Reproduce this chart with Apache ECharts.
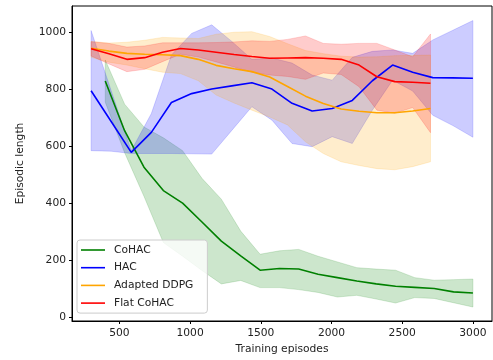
<!DOCTYPE html>
<html>
<head>
<meta charset="utf-8">
<script src="https://cdn.jsdelivr.net/npm/echarts@6/dist/echarts.min.js"></script>
<style>
  html, body { margin: 0; padding: 0; background: #fff; }
  #chart { width: 493px; height: 360px; }
</style>
</head>
<body>
<div id="chart"></div>
<script>
// CoHAC
const cohacX = [400, 537, 674, 811, 947, 1084, 1221, 1358, 1495, 1632, 1768, 1905, 2042, 2179, 2316, 2453, 2589, 2726, 2863, 3000]
const cohacMean = [829, 655, 527, 445, 401, 335, 268, 216, 166, 172, 170, 152, 140, 128, 118, 110, 106, 102, 90, 86]
const cohacUpper = [903, 748, 668, 630, 585, 488, 415, 303, 222, 234, 239, 215, 195, 175, 170, 166, 140, 131, 133, 135]
const cohacLower = [755, 578, 425, 263, 215, 165, 118, 130, 105, 105, 98, 88, 72, 78, 65, 51, 70, 67, 52, 37]

// HAC
const hacX = [300, 442, 584, 726, 868, 1011, 1153, 1295, 1437, 1579, 1721, 1863, 2005, 2147, 2289, 2432, 2574, 2716, 2858, 3000]
const hacMean = [795, 687, 579, 649, 754, 785, 801, 812, 823, 801, 751, 724, 733, 761, 830, 885, 860, 841, 840, 839]
const hacUpper = [1006, 795, 585, 715, 920, 996, 1026, 968, 905, 910, 892, 850, 832, 912, 933, 938, 926, 973, 1007, 1041]
const hacLower = [585, 583, 575, 575, 575, 574, 573, 656, 739, 692, 610, 599, 634, 610, 727, 832, 794, 709, 673, 632]

// Adapted DDPG
const ddpgX = [300, 426, 553, 679, 805, 932, 1058, 1184, 1311, 1437, 1563, 1689, 1816, 1942, 2068, 2195, 2321, 2447, 2574, 2700]
const ddpgMean = [944, 934, 926, 923, 921, 918, 905, 884, 872, 862, 843, 810, 776, 750, 731, 723, 718, 718, 724, 733]
const ddpgUpper = [968, 962, 965, 972, 982, 980, 978, 993, 1000, 1002, 985, 960, 936, 925, 916, 913, 914, 918, 919, 920]
const ddpgLower = [912, 895, 885, 872, 860, 855, 830, 780, 752, 727, 703, 675, 616, 575, 546, 533, 522, 518, 529, 546]

// Flat CoHAC
const flatX = [300, 426, 553, 679, 805, 932, 1058, 1184, 1311, 1437, 1563, 1689, 1816, 1942, 2068, 2195, 2321, 2447, 2574, 2700]
const flatMean = [942, 925, 905, 911, 930, 943, 938, 930, 922, 915, 909, 910, 911, 909, 905, 885, 844, 827, 825, 821]
const flatUpper = [967, 961, 948, 952, 963, 963, 963, 964, 966, 970, 968, 975, 987, 961, 958, 961, 961, 938, 914, 994]
const flatLower = [917, 889, 862, 870, 897, 923, 913, 896, 878, 860, 850, 845, 835, 857, 852, 809, 727, 716, 736, 648]

const xTicks = [500, 1000, 1500, 2000, 2500, 3000]
const yTicks = [0, 200, 400, 600, 800, 1000]

const methods = [
  { name: "CoHAC", color: "#008000", x: cohacX, mean: cohacMean, upper: cohacUpper, lower: cohacLower },
  { name: "HAC", color: "#0000ff", x: hacX, mean: hacMean, upper: hacUpper, lower: hacLower },
  { name: "Adapted DDPG", color: "#ffa500", x: ddpgX, mean: ddpgMean, upper: ddpgUpper, lower: ddpgLower },
  { name: "Flat CoHAC", color: "#ff0000", x: flatX, mean: flatMean, upper: flatUpper, lower: flatLower },
]

const font = "DejaVu Sans"
const series = []
methods.forEach((m) => {
  // shaded band (fill_between) as one polygon through the axis scales
  series.push({
    name: m.name + " band",
    type: "custom",
    silent: true,
    data: m.x.map((x, i) => [x, m.lower[i], m.upper[i]]),
    encode: { x: 0, y: [1, 2] },
    renderItem: (params, api) => {
      if (params.dataIndex !== 0) return null
      const top = m.x.map((x, i) => api.coord([x, m.upper[i]]))
      const bottom = m.x.map((x, i) => api.coord([x, m.lower[i]])).reverse()
      return {
        type: "polygon",
        shape: { points: top.concat(bottom) },
        style: { fill: m.color, opacity: 0.2, stroke: m.color, lineWidth: 0.8 },
      }
    },
  })
  series.push({
    name: m.name,
    type: "line",
    data: m.x.map((x, i) => [x, m.mean[i]]),
    symbol: "none",
    color: m.color,
    lineStyle: { color: m.color, width: 1.6 },
  })
})

const chart = echarts.init(document.getElementById("chart"))
chart.setOption({
  animation: false,
  textStyle: { fontFamily: font },
  grid: {
    left: 72,
    right: 1,
    top: 6,
    bottom: 39,
    containLabel: false,
    outerBoundsMode: "none",
    show: true,
    borderColor: "#000",
    borderWidth: 1,
  },
  legend: {
    data: methods.map((m) => m.name),
    orient: "vertical",
    left: 77,
    top: 240,
    icon: "rect",
    itemWidth: 24,
    itemHeight: 1.6,
    itemGap: 5.7,
    padding: [4, 14, 4, 4],
    backgroundColor: "rgba(255,255,255,0.8)",
    borderColor: "#ccc",
    borderWidth: 1,
    borderRadius: 3,
    textStyle: { fontFamily: font, fontSize: 10.7, color: "#222", lineHeight: 12, padding: [0, 0, 0, 4] },
  },
  xAxis: {
    type: "value",
    min: 165,
    max: 3135,
    name: "Training episodes",
    nameLocation: "middle",
    nameGap: 23,
    nameTextStyle: { fontFamily: font, fontSize: 10.7, color: "#222" },
    splitLine: { show: false },
    axisLine: { show: true, onZero: false, lineStyle: { color: "#000", width: 1 } },
    axisTick: { show: true, length: 3, customValues: xTicks, lineStyle: { color: "#000" } },
    axisLabel: { customValues: xTicks, formatter: (v) => String(v), fontFamily: font, fontSize: 10.7, color: "#222", margin: 7 },
  },
  yAxis: {
    type: "value",
    min: -12,
    max: 1092,
    name: "Episodic length",
    nameLocation: "middle",
    nameGap: 46,
    nameTextStyle: { fontFamily: font, fontSize: 10.7, color: "#222" },
    splitLine: { show: false },
    axisLine: { show: true, onZero: false, lineStyle: { color: "#000", width: 1 } },
    axisTick: { show: true, length: 3, customValues: yTicks, lineStyle: { color: "#000" } },
    axisLabel: { customValues: yTicks, formatter: (v) => String(v), fontFamily: font, fontSize: 10.7, color: "#222", margin: 6 },
  },
  series,
})
</script>
</body>
</html>
